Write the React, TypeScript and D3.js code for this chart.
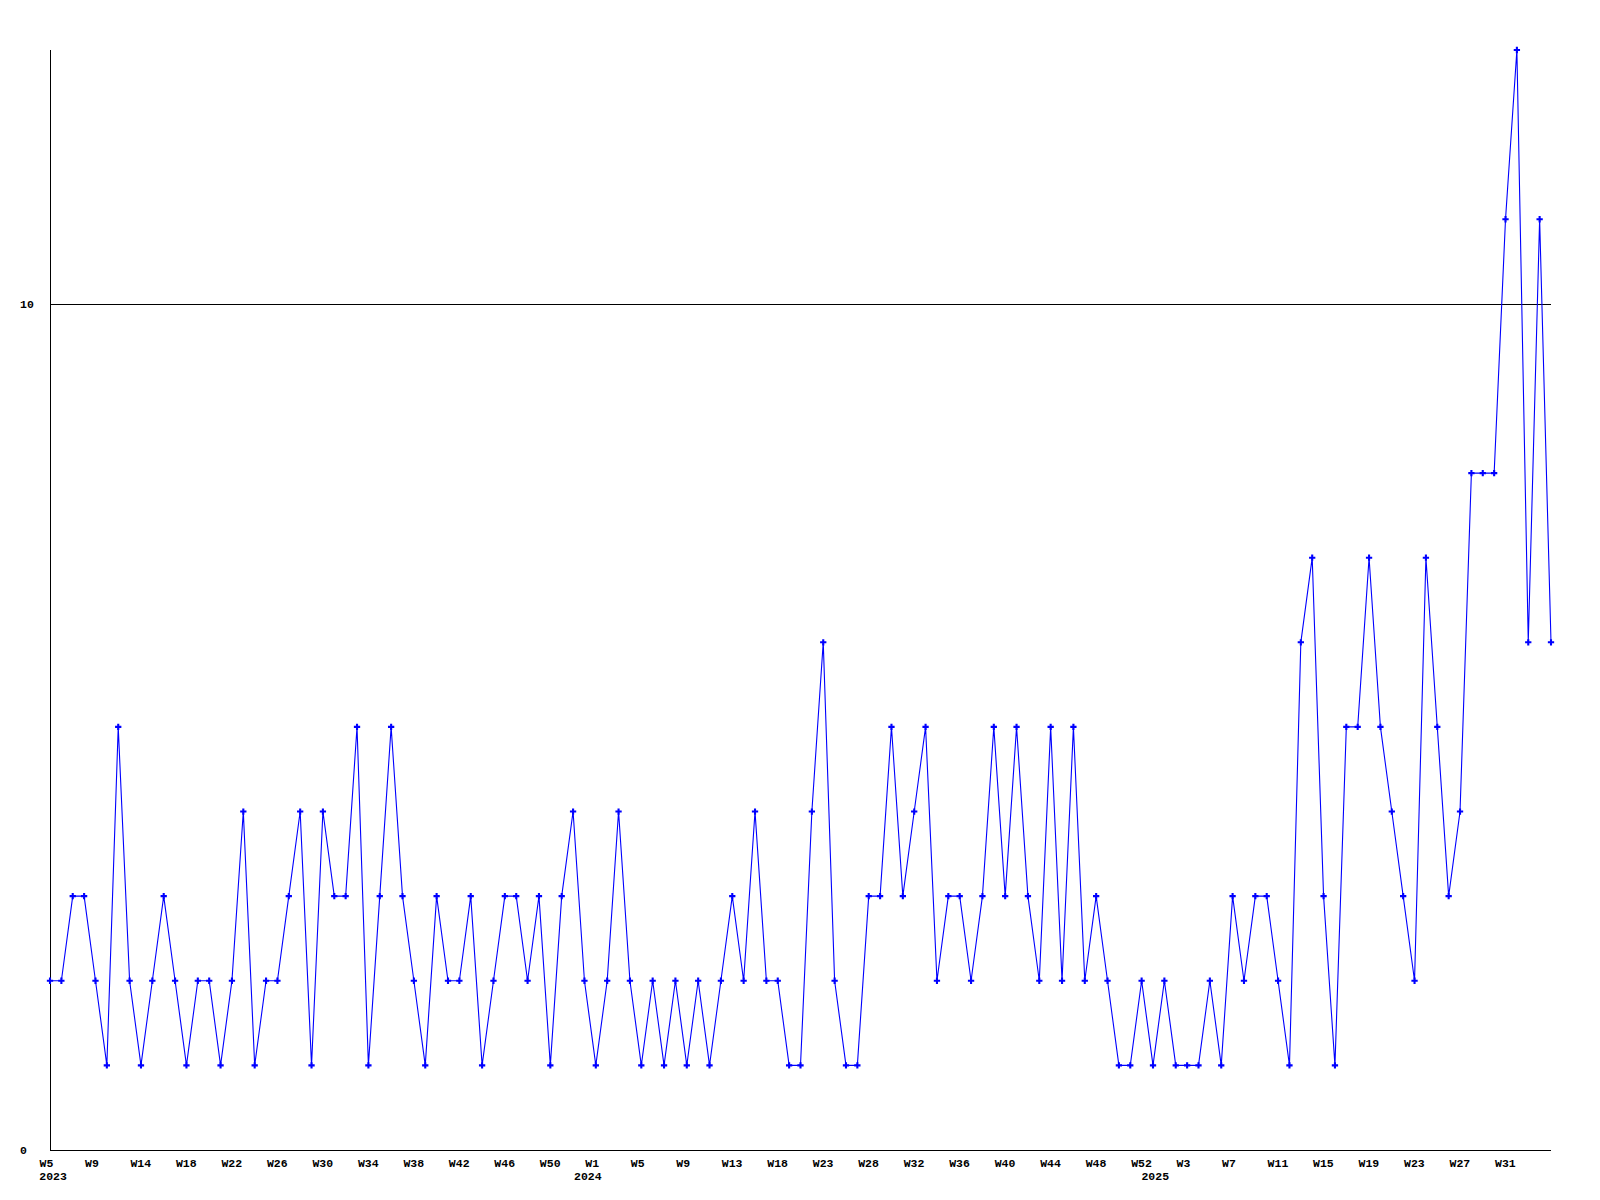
import React from "react";
import * as d3 from "d3";

const values: number[] = [
  2, 2, 3, 3, 2, 1, 5, 2, 1, 2, 3, 2, 1, 2, 2, 1, 2, 4, 1, 2,
  2, 3, 4, 1, 4, 3, 3, 5, 1, 3, 5, 3, 2, 1, 3, 2, 2, 3, 1, 2,
  3, 3, 2, 3, 1, 3, 4, 2, 1, 2, 4, 2, 1, 2, 1, 2, 1, 2, 1, 2,
  3, 2, 4, 2, 2, 1, 1, 4, 6, 2, 1, 1, 3, 3, 5, 3, 4, 5, 2, 3,
  3, 2, 3, 5, 3, 5, 3, 2, 5, 2, 5, 2, 3, 2, 1, 1, 2, 1, 2, 1,
  1, 1, 2, 1, 3, 2, 3, 3, 2, 1, 6, 7, 3, 1, 5, 5, 7, 5, 4, 3,
  2, 7, 5, 3, 4, 8, 8, 8, 11, 13, 6, 11, 6,
];

const tickLabels: string[] = [
  "W5", "W9", "W14", "W18", "W22", "W26", "W30", "W34", "W38", "W42", "W46", "W50",
  "W1", "W5", "W9", "W13", "W18", "W23", "W28", "W32", "W36", "W40", "W44", "W48",
  "W52", "W3", "W7", "W11", "W15", "W19", "W23", "W27", "W31",
];
const tickEvery = 4;

const yearLabels: string[] = ["2023", "2024", "2025"];
const yearPositions: number[] = [0.27, 47.3, 97.2];

const yTicks: number[] = [0, 10];
const yMax = 13;

const W = 1600;
const H = 1200;
const left = 50;
const right = 1551;
const top = 50;
const bottom = 1150;
const font = "'Liberation Mono', 'DejaVu Sans Mono', monospace";

export default function App() {
  const x = d3.scaleLinear().domain([0, values.length - 1]).range([left, right]);
  const y = d3.scaleLinear().domain([0, yMax]).range([bottom, top]);
  const line = d3
    .line<number>()
    .x((_, i) => x(i))
    .y((d) => y(d));
  const marker = d3.symbol(d3.symbolCross, 22)();

  return (
    <svg
      width={W}
      height={H}
      style={{ position: "absolute", left: 0, top: 0, background: "#fff" }}
    >
      <rect x={0} y={0} width={W} height={H} fill="#fff" />
      {/* horizontal grid at y ticks (non-zero) */}
      {yTicks
        .filter((t) => t !== 0)
        .map((t) => (
          <line
            key={"g" + t}
            x1={left}
            x2={right}
            y1={Math.round(y(t)) + 0.5}
            y2={Math.round(y(t)) + 0.5}
            stroke="#000"
            strokeWidth={1}
            shapeRendering="crispEdges"
          />
        ))}
      {/* axes */}
      <line x1={left + 0.5} x2={left + 0.5} y1={top} y2={bottom} stroke="#000" shapeRendering="crispEdges" />
      <line x1={left} x2={right} y1={bottom + 0.5} y2={bottom + 0.5} stroke="#000" shapeRendering="crispEdges" />
      {/* y labels */}
      {yTicks.map((t) => (
        <text
          key={"y" + t}
          x={20}
          y={y(t) + 4}
          fontFamily={font}
          fontWeight="bold"
          fontSize={11.5}
          fill="#000"
        >
          {t}
        </text>
      ))}
      {/* x labels */}
      {tickLabels.map((l, k) => (
        <text
          key={"x" + k}
          x={x(k * tickEvery) - 10.5}
          y={bottom + 17}
          fontFamily={font}
          fontWeight="bold"
          fontSize={11.5}
          fill="#000"
        >
          {l}
        </text>
      ))}
      {yearLabels.map((l, k) => (
        <text
          key={"yr" + k}
          x={x(yearPositions[k])}
          y={bottom + 30}
          textAnchor="middle"
          fontFamily={font}
          fontWeight="bold"
          fontSize={11.5}
          fill="#000"
        >
          {l}
        </text>
      ))}
      {/* series */}
      <path d={line(values) || ""} fill="none" stroke="#0000ff" strokeWidth={1.1} />
      {values.map((v, i) => (
        <path
          key={"m" + i}
          d={marker}
          transform={`translate(${x(i)},${y(v)})`}
          fill="#0000ff"
        />
      ))}
    </svg>
  );
}
